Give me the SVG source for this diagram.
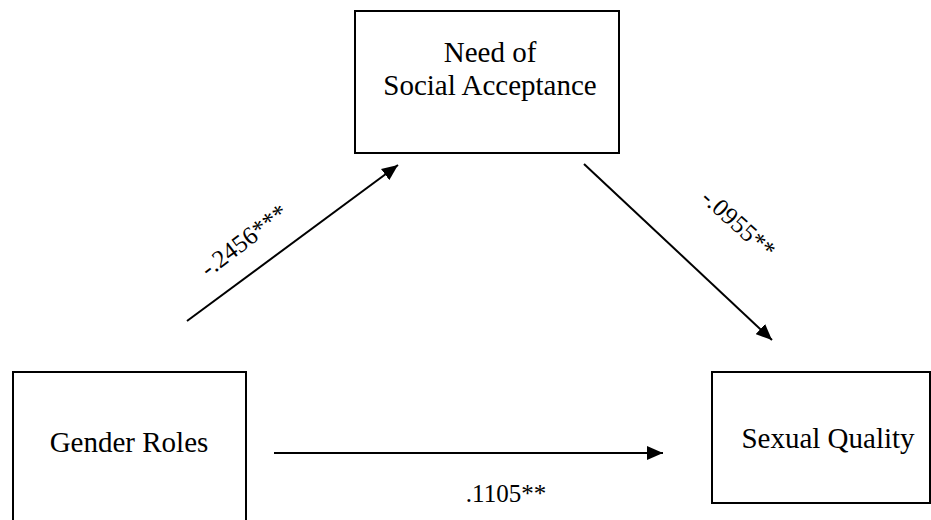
<svg xmlns="http://www.w3.org/2000/svg" width="931" height="520" viewBox="0 0 931 520">
<defs>
<style>
.box{fill:#fff;stroke:#000;stroke-width:2}
.t{font-family:"Liberation Serif","Times New Roman",serif;font-size:29px;fill:#000;text-anchor:middle}
.l{font-family:"Liberation Serif","Times New Roman",serif;font-size:25px;fill:#000;text-anchor:middle}
.c{stroke:#000;stroke-width:2;fill:none}
</style>
<marker id="ah" markerUnits="userSpaceOnUse" markerWidth="18" markerHeight="14" refX="16" refY="7" orient="auto">
<path d="M0,0 L16,7 L0,14 Z" fill="#000"/>
</marker>
</defs>
<rect width="931" height="520" fill="#fff"/>
<g id="connectors">
<line class="c" x1="187" y1="321" x2="398" y2="165" marker-end="url(#ah)"/>
<line class="c" x1="584" y1="164" x2="772" y2="340" marker-end="url(#ah)"/>
<line class="c" x1="274" y1="453" x2="663" y2="453" marker-end="url(#ah)"/>
<text class="l" transform="translate(249,247) rotate(-37)">-.2456***</text>
<text class="l" transform="translate(733,230) rotate(42)">-.0955**</text>
<text class="l" x="506" y="502">.1105**</text>
</g>
<g id="need">
<rect class="box" x="355" y="11" width="264" height="142"/>
<text class="t" x="490" y="62">Need of</text>
<text class="t" x="490" y="95">Social Acceptance</text>
</g>
<g id="gender">
<rect class="box" x="13" y="372" width="233" height="160"/>
<text class="t" x="129" y="452">Gender Roles</text>
</g>
<g id="sexual">
<rect class="box" x="712" y="372" width="218" height="131"/>
<text class="t" x="828" y="448">Sexual Quality</text>
</g>
</svg>
